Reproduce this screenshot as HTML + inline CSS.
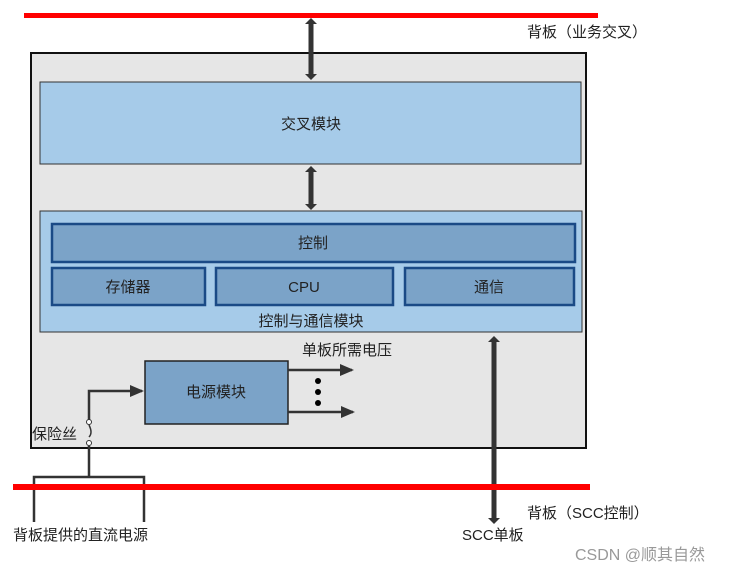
<!DOCTYPE html>
<html><head><meta charset="utf-8"><style>
body{margin:0;background:#fff;}
svg text{font-family:"Liberation Sans","Noto Sans CJK SC",sans-serif;font-size:15px;fill:#222;}
</style></head><body>
<svg width="748" height="576" viewBox="0 0 748 576" xmlns="http://www.w3.org/2000/svg">
<defs>
<marker id="ta" markerWidth="14" markerHeight="12" refX="12" refY="6" orient="auto" markerUnits="userSpaceOnUse"><path d="M0,0L14,6L0,12z" fill="#333"/></marker>
</defs>
<rect x="24" y="13" width="574" height="5" fill="#ff0000"/>
<rect x="31" y="53" width="555" height="395" fill="#e6e6e6" stroke="#111" stroke-width="2"/>
<rect x="40" y="82" width="541" height="82" fill="#a6cbe9" stroke="#333" stroke-width="1"/>
<text x="311" y="129" text-anchor="middle">交叉模块</text>
<rect x="40" y="211" width="542" height="121" fill="#a6cbe9" stroke="#333" stroke-width="1"/>
<rect x="52" y="224" width="523" height="38" fill="#7ba3c8" stroke="#1a4a86" stroke-width="2.5"/>
<text x="313" y="248" text-anchor="middle">控制</text>
<rect x="52" y="268" width="153" height="37" fill="#7ba3c8" stroke="#1a4a86" stroke-width="2.5"/>
<text x="128" y="292" text-anchor="middle">存储器</text>
<rect x="216" y="268" width="177" height="37" fill="#7ba3c8" stroke="#1a4a86" stroke-width="2.5"/>
<text x="304" y="292" text-anchor="middle">CPU</text>
<rect x="405" y="268" width="169" height="37" fill="#7ba3c8" stroke="#1a4a86" stroke-width="2.5"/>
<text x="489" y="292" text-anchor="middle">通信</text>
<text x="311" y="326" text-anchor="middle">控制与通信模块</text>
<!-- vertical double arrows -->
<g fill="#333">
<rect x="308.5" y="22" width="5" height="54"/>
<path d="M305,24L311,18L317,24z"/><path d="M305,74L311,80L317,74z"/>
<rect x="308.5" y="170" width="5" height="36"/>
<path d="M305,172L311,166L317,172z"/><path d="M305,204L311,210L317,204z"/>
<rect x="491.5" y="340" width="5" height="180"/>
<path d="M488,342L494,336L500,342z"/><path d="M488,518L494,524L500,518z"/>
</g>
<!-- power -->
<rect x="145" y="361" width="143" height="63" fill="#7ba3c8" stroke="#222" stroke-width="1.5"/>
<text x="216" y="397" text-anchor="middle">电源模块</text>
<text x="302" y="355">单板所需电压</text>
<line x1="288" y1="370" x2="352" y2="370" stroke="#333" stroke-width="2.5" marker-end="url(#ta)"/>
<line x1="288" y1="412" x2="353" y2="412" stroke="#333" stroke-width="2.5" marker-end="url(#ta)"/>
<circle cx="318" cy="381" r="3" fill="#000"/><circle cx="318" cy="392" r="3" fill="#000"/><circle cx="318" cy="403" r="3" fill="#000"/>
<polyline points="89,420 89,391 142,391" fill="none" stroke="#333" stroke-width="2.5" marker-end="url(#ta)"/>
<circle cx="89" cy="422" r="2.5" fill="#fff" stroke="#333" stroke-width="1"/>
<path d="M89,425 Q93,433 89,437" fill="none" stroke="#333" stroke-width="1.5"/>
<circle cx="89" cy="443" r="2.5" fill="#fff" stroke="#333" stroke-width="1"/>
<text x="32" y="439">保险丝</text>
<polyline points="89,446 89,477" fill="none" stroke="#333" stroke-width="2.5"/>
<polyline points="34,522 34,477 144,477 144,522" fill="none" stroke="#333" stroke-width="2.5"/>
<rect x="13" y="484" width="577" height="6" fill="#ff0000"/>
<text x="527" y="37">背板（业务交叉）</text>
<text x="527" y="518">背板（SCC控制）</text>
<text x="462" y="540">SCC单板</text>
<text x="13" y="540">背板提供的直流电源</text>
<text x="575" y="560" style="fill:#999;font-size:16px">CSDN @顺其自然</text>
</svg>
</body></html>
